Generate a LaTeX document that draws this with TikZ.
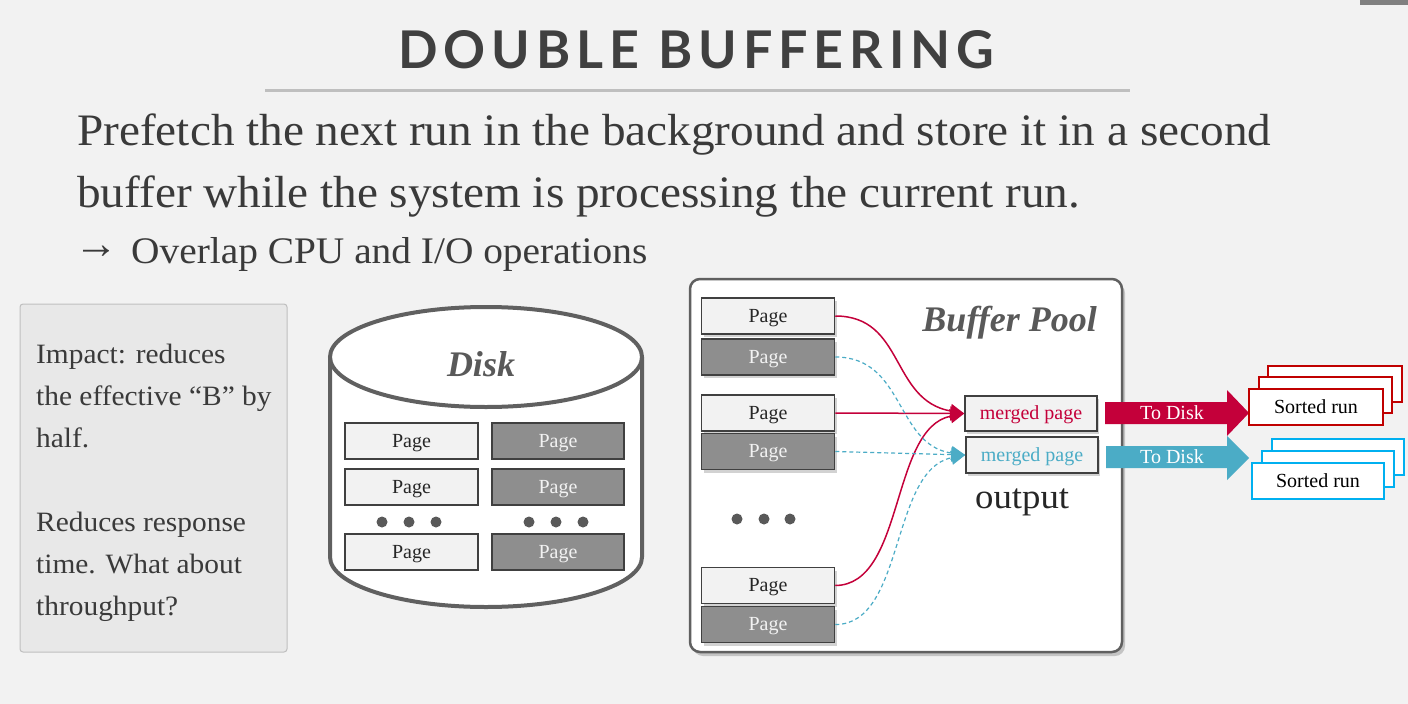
\documentclass[tikz,border=0pt]{standalone}
\usepackage{fontspec}
\setmainfont{Liberation Serif}
\newfontfamily\bodyfont[FakeStretch=1.05]{Liberation Serif}
\newfontfamily\titlefont[LetterSpace=11.5]{Lato}
\usetikzlibrary{shadows,arrows.meta}
\definecolor{bg}{HTML}{F2F2F2}
\definecolor{titlegray}{HTML}{404040}
\definecolor{rulegray}{HTML}{BFBFBF}
\definecolor{textgray}{HTML}{3A3A3A}
\definecolor{diskline}{HTML}{606060}
\definecolor{darkpage}{HTML}{8E8E8E}
\definecolor{lightpage}{HTML}{F2F2F2}
\definecolor{myred}{HTML}{C4003A}
\definecolor{runred}{HTML}{C00000}
\definecolor{myblue}{HTML}{4BACC6}
\definecolor{runblue}{HTML}{00B0F0}
\definecolor{labelgray}{HTML}{595959}
\tikzset{
  pagebase/.style={draw=black!75, line width=1.5pt, minimum width=133pt, minimum height=36pt, inner sep=0pt, text height=14pt, text depth=2pt, font=\fontsize{20}{20}\selectfont},
  lightpg/.style={pagebase, fill=lightpage, text=black!85},
  darkpg/.style={pagebase, fill=darkpage, text=lightpage},
  shpg/.style={drop shadow={shadow xshift=2pt, shadow yshift=-3pt, opacity=0.35}},
  dotnode/.style={circle, fill=labelgray, inner sep=0pt, minimum size=11pt},
  redarrow/.style={myred, line width=1.5pt, -{Triangle[length=14pt,width=14pt]}},
  bluearrow/.style={myblue, line width=1.2pt, dashed, dash pattern=on 4pt off 3pt, -{Triangle[length=14pt,width=14pt]}},
  runbox/.style={fill=white, line width=2pt, minimum width=134pt, minimum height=36pt, inner sep=0pt, text height=14pt, text depth=2pt, font=\fontsize{20}{20}\selectfont},
  bodytext/.style={text=textgray, inner sep=0pt, anchor=base west},
  boxtext/.style={bodytext, font=\bodyfont\fontsize{28}{28}\selectfont},
}
\begin{document}
\begin{tikzpicture}[x=1pt,y=-1pt]
\useasboundingbox (0,0) rectangle (1408,704);
\fill[bg] (0,0) rectangle (1408,704);
\fill[black!50] (1360,0) rectangle (1408,5);
% title
\node[text=titlegray, inner sep=0pt, anchor=base west] (title) at (398,68) {\titlefont\bfseries\fontsize{52}{52}\selectfont DOUBLE BUFFERING};
\draw[rulegray, line width=3pt] (265,90) -- (1130,90);
% body
\node[bodytext, font=\bodyfont\fontsize{45}{45}\selectfont] (l1) at (77,145) {Prefetch the next run in the background and store it in a second};
\node[bodytext, font=\bodyfont\fontsize{45}{45}\selectfont] (l2) at (77,207) {buffer while the system is processing the current run.};
\node[bodytext, font=\fontsize{44}{44}\selectfont] (arr) at (74,258) {→};
\node[bodytext, font=\bodyfont\fontsize{37.5}{37.5}\selectfont] (l3) at (131,263) {Overlap CPU and I/O operations};
% left box
\draw[rulegray, fill=black!9, rounded corners=3pt, line width=1pt] (20,304) rectangle (287,652);
\node[boxtext] (i1) at (36,363) {Impact: reduces};
\node[boxtext] (i2) at (36,405) {the effective “B” by};
\node[boxtext] (i3) at (36,447) {half.};
\node[boxtext] (i4) at (36,531) {Reduces response};
\node[boxtext] (i5) at (36,573) {time. What about};
\node[boxtext] (i6) at (36,615) {throughput?};
% disk
\draw[diskline, line width=4pt, fill=white] (330,357) -- (330,557) arc[start angle=180, end angle=360, x radius=156pt, y radius=50pt] -- (642,357);
\draw[diskline, line width=4pt, fill=white] (486,357) ellipse[x radius=156pt, y radius=50pt];
\node[text=labelgray, font=\fontsize{36}{36}\selectfont\bfseries\itshape, anchor=base, inner sep=0pt] (disk) at (481,376) {Disk};
\node[lightpg] (d1) at (411.5,441) {Page};
\node[lightpg] (d2) at (411.5,487) {Page};
\node[lightpg] (d3) at (411.5,552) {Page};
\node[darkpg, minimum width=132pt] (e1) at (558,441) {Page};
\node[darkpg, minimum width=132pt] (e2) at (558,487) {Page};
\node[darkpg, minimum width=132pt] (e3) at (558,552) {Page};
\foreach \x/\n in {382/a,409/b,436/c,529/d,556/e,583/f} \node[dotnode] (dd\n) at (\x,522) {};
% buffer pool
\draw[diskline, fill=white, line width=2.5pt, rounded corners=10pt, drop shadow={shadow xshift=3pt, shadow yshift=-4pt, opacity=0.4}] (690,279) rectangle (1122,652);
\node[text=labelgray, font=\fontsize{36}{36}\selectfont\bfseries\itshape, anchor=base east, inner sep=0pt] (bp) at (1097,331) {Buffer Pool};
\node[lightpg, shpg] (p1) at (768,316) {Page};
\node[darkpg, shpg] (p2) at (768,357) {Page};
\node[lightpg, shpg] (p3) at (768,413) {Page};
\node[darkpg, shpg] (p4) at (768,451.5) {Page};
\node[lightpg, shpg] (p5) at (768,585.5) {Page};
\node[darkpg, shpg] (p6) at (768,624.5) {Page};
\foreach \x/\n in {737/a,764/b,790/c} \node[dotnode] (bd\n) at (\x,519) {};
\node[lightpg, shpg, minimum width=132pt, minimum height=35pt, text=myred] (mr) at (1031,413.5) {merged page};
\node[lightpg, shpg, minimum width=132pt, text=myblue] (mb) at (1032,455) {merged page};
\node[text=black!85, font=\bodyfont\fontsize{35}{35}\selectfont, anchor=base west, inner sep=0pt] (out) at (975,508) {output};
% connectors
\draw[redarrow] (p1.east) .. controls (905,316) and (890,400) .. (mr.west);
\draw[redarrow] (p3.east) -- (mr.west);
\draw[redarrow] (p5.east) .. controls (905,585) and (890,428) .. (mr.west);
\draw[bluearrow] (p2.east) .. controls (905,357) and (895,445) .. (mb.west);
\draw[bluearrow] (p4.east) -- (mb.west);
\draw[bluearrow] (p6.east) .. controls (905,625) and (890,470) .. (mb.west);
% To Disk arrows
\fill[myred] (1105,402) -- (1227,402) -- (1227,390) -- (1249,413) -- (1227,436) -- (1227,424) -- (1105,424) -- cycle;
\node[text=white, font=\fontsize{20}{20}\selectfont, inner sep=0pt, text height=14pt, text depth=2pt] (td1) at (1172,413) {To Disk};
\fill[myblue] (1106,446) -- (1227,446) -- (1227,436) -- (1249,458) -- (1227,480) -- (1227,468) -- (1106,468) -- cycle;
\node[text=white, font=\fontsize{20}{20}\selectfont, inner sep=0pt, text height=14pt, text depth=2pt] (td2) at (1172,457) {To Disk};
% sorted runs
\node[runbox, draw=runred] (r3) at (1335,383.5) {};
\node[runbox, draw=runred, minimum width=133pt] (r2) at (1325.5,395) {};
\node[runbox, draw=runred] (r1) at (1316,407) {Sorted run};
\node[runbox, draw=runblue, minimum width=132pt] (s3) at (1338,457) {};
\node[runbox, draw=runblue, minimum width=132pt] (s2) at (1328,469) {};
\node[runbox, draw=runblue, minimum width=132pt] (s1) at (1318,481) {Sorted run};
\end{tikzpicture}
\end{document}
